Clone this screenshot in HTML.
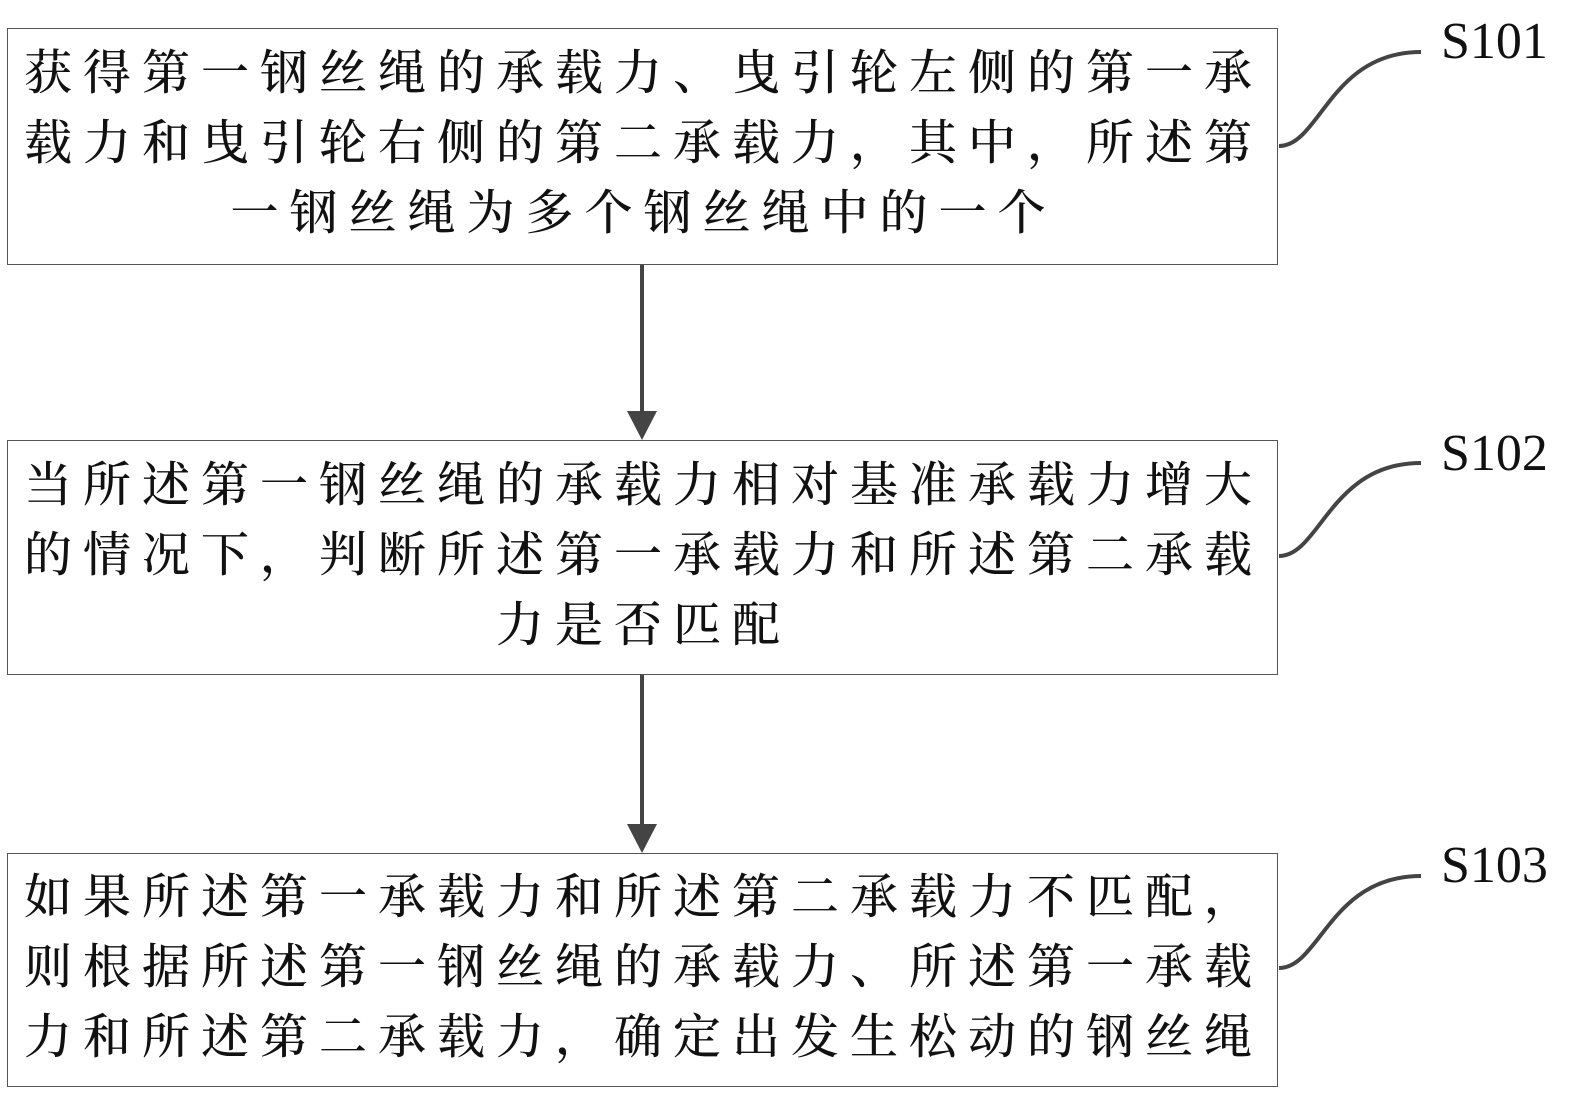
<!DOCTYPE html>
<html><head><meta charset="utf-8"><style>
html,body{margin:0;padding:0;background:#fff;}
body{width:1571px;height:1103px;position:relative;overflow:hidden;font-family:"Liberation Serif","Noto Serif CJK SC",serif;}
.box{position:absolute;left:7px;width:1271px;border:1.5px solid #555;box-sizing:border-box;}
.ln{position:absolute;left:0;width:1271px;text-align:center;font-size:48px;letter-spacing:11px;line-height:60px;color:#111;white-space:nowrap;font-weight:500;font-family:"Noto Serif CJK SC","Liberation Serif",serif;}
.lb{position:absolute;left:1441px;font-size:52px;color:#111;line-height:60px;}
</style></head><body>
<div class="box" style="top:28px;height:237px"></div>
<div class="box" style="top:440px;height:235px"></div>
<div class="box" style="top:853px;height:234px"></div>
<div class="ln" style="top:39px;left:8px">获得第一钢丝绳的承载力、曳引轮左侧的第一承</div>
<div class="ln" style="top:109px;left:8px">载力和曳引轮右侧的第二承载力，其中，所述第</div>
<div class="ln" style="top:179px;left:8px">一钢丝绳为多个钢丝绳中的一个</div>
<div class="ln" style="top:451px;left:8px">当所述第一钢丝绳的承载力相对基准承载力增大</div>
<div class="ln" style="top:521px;left:8px">的情况下，判断所述第一承载力和所述第二承载</div>
<div class="ln" style="top:591px;left:8px">力是否匹配</div>
<div class="ln" style="top:863px;left:8px">如果所述第一承载力和所述第二承载力不匹配，</div>
<div class="ln" style="top:933px;left:8px">则根据所述第一钢丝绳的承载力、所述第一承载</div>
<div class="ln" style="top:1003px;left:8px">力和所述第二承载力，确定出发生松动的钢丝绳</div>
<div class="lb" style="top:12px">S101</div>
<div class="lb" style="top:424px">S102</div>
<div class="lb" style="top:836px">S103</div>
<svg width="1571" height="1103" style="position:absolute;left:0;top:0">
<g stroke="#444" stroke-width="4" fill="none">
<path d="M1279,146 C1320,146 1330,52 1421,52"/>
<path d="M1279,556 C1320,556 1330,463 1421,463"/>
<path d="M1279,968 C1320,968 1330,876 1421,876"/>
</g>
<g stroke="#444" stroke-width="4">
<line x1="642" y1="265" x2="642" y2="415"/>
<line x1="642" y1="675" x2="642" y2="828"/>
</g>
<g fill="#444">
<polygon points="627,411 657,411 642,440"/>
<polygon points="627,824 657,824 642,853"/>
</g>
</svg>
</body></html>
